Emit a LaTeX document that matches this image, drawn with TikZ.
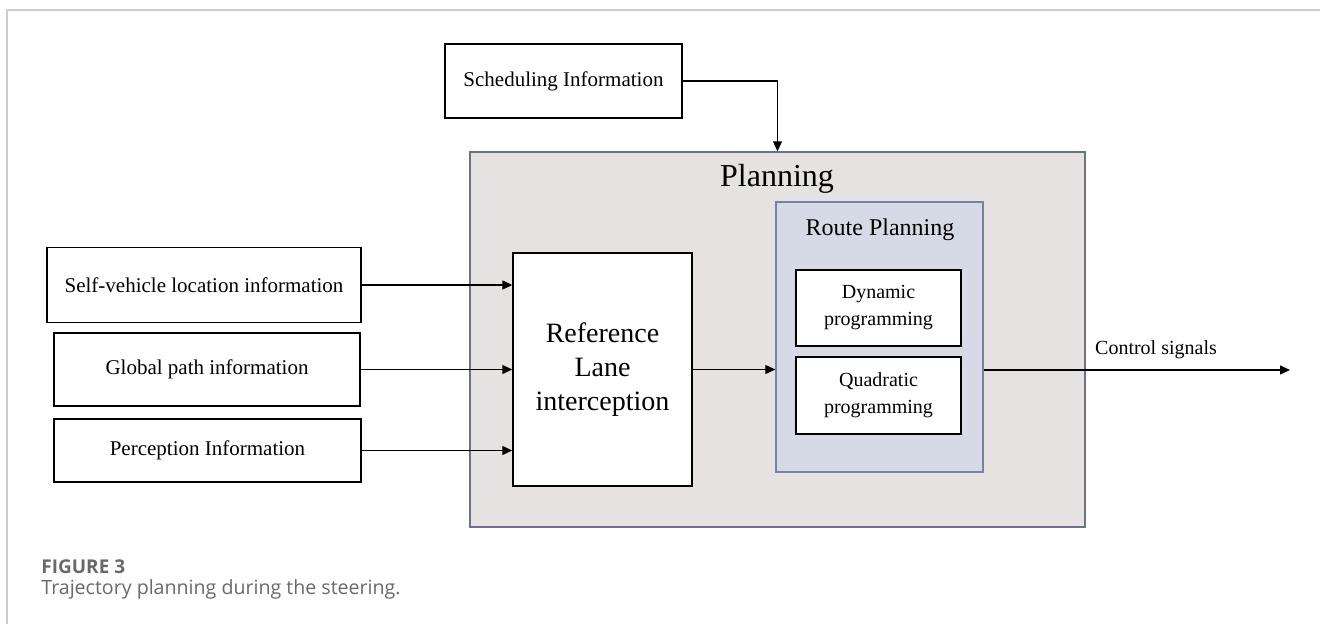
\documentclass[tikz,border=0pt]{standalone}
\usepackage{fontspec}
\setmainfont{Liberation Serif}
\newfontfamily\capfont{Open Sans}
\usetikzlibrary{arrows.meta}
\definecolor{planFill}{RGB}{231,226,226}
\definecolor{planLine}{RGB}{105,115,135}
\definecolor{routeFill}{RGB}{214,218,230}
\definecolor{routeLine}{RGB}{115,130,165}
\definecolor{frameGray}{RGB}{205,205,205}
\definecolor{capGray}{RGB}{105,105,105}

\begin{document}
\begin{tikzpicture}[x=0.5pt,y=-0.5pt,
        box/.style={draw,line width=0.7pt,fill=white,align=center,inner sep=0pt},
        arrow/.style={-{Triangle[length=5pt,width=4.5pt]},line width=0.6pt}
      ]
        \useasboundingbox (0,0) rectangle (1320,624);
        % page frame
        \draw[frameGray,line width=0.9pt] (1320,10) -- (7,10) -- (7,624);
        % planning block
        \node[draw=planLine,fill=planFill,line width=0.7pt,inner sep=0pt,minimum width=307.5pt,minimum height=187.5pt] (plan) at (777.5,339.5) {};
        \node[font=\fontsize{16}{19}\selectfont] (plantitle) at (777,179) {Planning};
        \node[draw=routeLine,fill=routeFill,line width=0.7pt,inner sep=0pt,minimum width=103.5pt,minimum height=135pt] (route) at (879.5,337) {};
        \node[font=\fontsize{12}{14}\selectfont] (routetitle) at (880,230) {Route Planning};
        \node[box,minimum width=82.5pt,minimum height=38pt,font=\fontsize{10}{13.5}\selectfont] (dp) at (878.5,308) {Dynamic\\programming};
        \node[box,minimum width=82.5pt,minimum height=38.5pt,font=\fontsize{10}{13.5}\selectfont] (qp) at (878.5,395.5) {Quadratic\\programming};
        \node[box,minimum width=89.5pt,minimum height=116.5pt,font=\fontsize{14}{17}\selectfont] (ref) at (602.5,369.5) {Reference\\Lane\\interception};
        % inputs
        \node[box,minimum width=118.5pt,minimum height=37pt,font=\fontsize{10.5}{12}\selectfont] (sched) at (563.5,81) {Scheduling Information};
        \node[box,minimum width=157pt,minimum height=37.5pt,font=\fontsize{10.5}{12}\selectfont] (self) at (204,285) {Self-vehicle location information};
        \node[box,minimum width=153pt,minimum height=36.5pt,font=\fontsize{10.5}{12}\selectfont] (glob) at (207,369.5) {Global path information};
        \node[box,minimum width=153.5pt,minimum height=31.5pt,font=\fontsize{10.5}{12}\selectfont] (perc) at (207.5,450.5) {Perception Information};
        \draw[arrow] (sched.east) -| (plan.north);
        \draw[arrow] (self.east) -- (self.east -| ref.west);
        \draw[arrow] (glob.east) -- (glob.east -| ref.west);
        \draw[arrow] (perc.east) -- (perc.east -| ref.west);
        \draw[arrow] (ref.east) -- (ref.east -| route.west);
        % output
        \coordinate (out) at (1290,370);
        \draw[arrow] (out -| route.east) -- (out);
        \node[font=\fontsize{10}{12}\selectfont] (ctrl) at (1156,350) {Control signals};
        % caption
        \node[anchor=west,inner sep=0pt,text=capGray,font=\capfont\bfseries\fontsize{9.5}{11}\selectfont] (fig) at (41,567) {FIGURE 3};
        \node[anchor=west,inner sep=0pt,text=capGray,font=\capfont\fontsize{9.8}{12}\selectfont] (cap) at (41,589) {Trajectory planning during the steering.};
      \end{tikzpicture}
\end{document}
